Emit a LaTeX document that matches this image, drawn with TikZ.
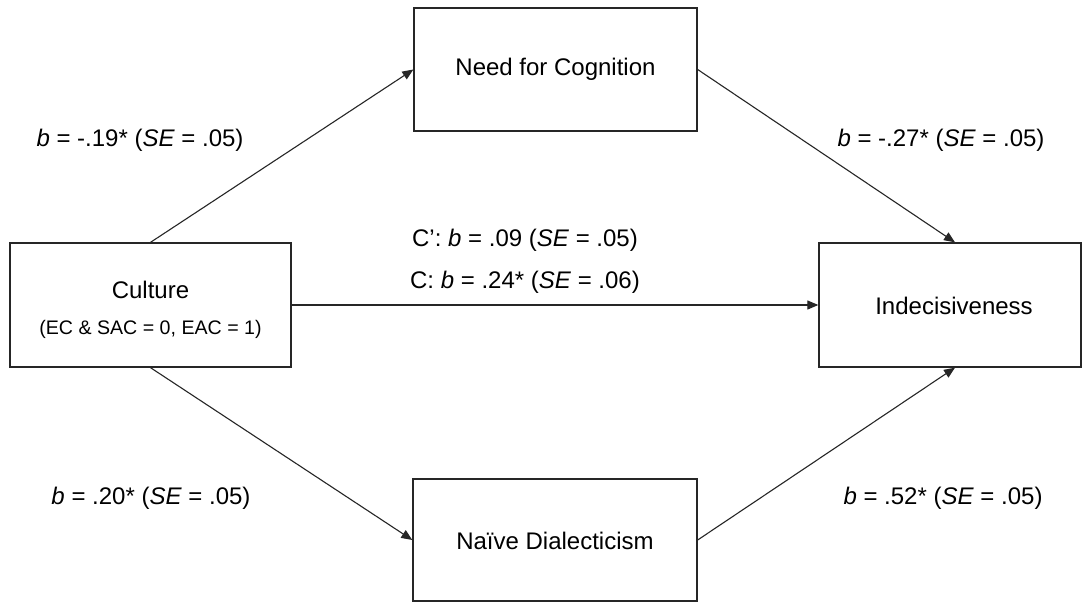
\documentclass[tikz,border=0pt]{standalone}
\usepackage{fontspec}
\setmainfont{Liberation Sans}
\usetikzlibrary{arrows.meta}
\begin{document}
\begin{tikzpicture}[x=1pt,y=-1pt,
  box/.style={draw=black!85,line width=1.3pt,rectangle,inner sep=0pt},
  lab/.style={inner sep=0pt,font=\fontsize{24}{29}\selectfont},
  sub/.style={inner sep=0pt,font=\fontsize{19.6}{23}\selectfont},
  conn/.style={draw=black!85,line width=1.1pt,-{Triangle[length=11pt,width=9pt]}}]
\useasboundingbox[fill=white] (0,0) rectangle (1089,606);
\node[box,minimum width=283pt,minimum height=123pt] (nfc) at (555.5,69.5) {};
\node[box,minimum width=281pt,minimum height=124pt] (cult) at (150.5,305) {};
\node[box,minimum width=262pt,minimum height=124pt] (ind) at (950,305) {};
\node[box,minimum width=284pt,minimum height=122pt] (nd) at (555,540) {};
\node[lab] (tnfc) at (555.5,69) {Need for Cognition};
\node[lab] (tcult) at (150.5,290) {Culture};
\node[sub] (tcsub) at (150.5,329) {(EC \& SAC = 0, EAC = 1)};
\node[lab] (tind) at (954,306) {Indecisiveness};
\node[lab] (tnd) at (555,541) {Naïve Dialecticism};
\draw[conn] (cult.north) -- (nfc.west);
\draw[conn] (nfc.east) -- ([xshift=5pt]ind.north);
\draw[conn] (cult.east) -- (ind.west);
\draw[conn] (cult.south) -- (nd.west);
\draw[conn] (nd.east) -- ([xshift=5pt]ind.south);
\node[lab] (l1) at (140,140) {\textit{b} = -.19* (\textit{SE} = .05)};
\node[lab] (l2) at (941,140) {\textit{b} = -.27* (\textit{SE} = .05)};
\node[lab] (l3) at (525,240) {C’: \textit{b} = .09 (\textit{SE} = .05)};
\node[lab] (l4) at (525,282) {C: \textit{b} = .24* (\textit{SE} = .06)};
\node[lab] (l5) at (151,498) {\textit{b} = .20* (\textit{SE} = .05)};
\node[lab] (l6) at (943,498) {\textit{b} = .52* (\textit{SE} = .05)};
\end{tikzpicture}
\end{document}
